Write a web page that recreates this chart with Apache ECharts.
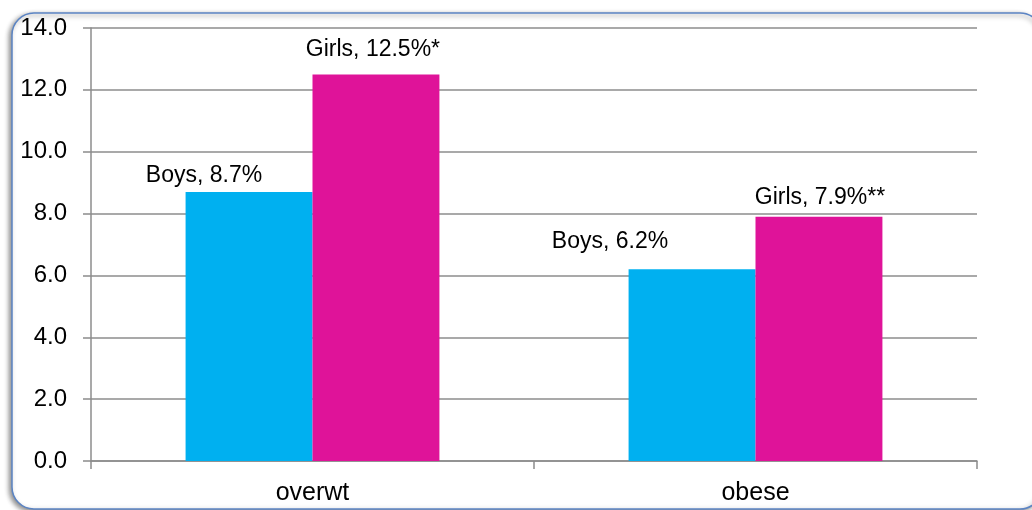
<!DOCTYPE html>
<html>
<head>
<meta charset="utf-8">
<title>Overweight and obesity by sex</title>
<script src="https://cdn.jsdelivr.net/npm/echarts@6/dist/echarts.min.js"></script>
<style>
  html, body { margin: 0; padding: 0; background: #ffffff; }
  #chart { width: 1032px; height: 510px; }
</style>
</head>
<body>
<div id="chart"></div>
<script>
// Prevalence (%) by category and sex
const categories = ['overwt', 'obese'];
const boysValues = [8.7, 6.2];
const girlsValues = [12.5, 7.9];
// Significance markers appended to the girls' labels
const girlsMarks = ['*', '**'];
// Value axis range
const yMin = 0;
const yMax = 14;
const yStep = 2;

// Per-bar label nudges [dx, dy] in pixels
const boysLabelShift = [[-45, 0], [-82, -11]];
const girlsLabelShift = [[-3, -8], [1, -3]];

const FONT = "'Liberation Sans', Arial, sans-serif";
const GRID_GRAY = '#8c8c8c';

function buildSeriesData(values, name, marks, shifts) {
  return values.map((v, i) => ({
    value: v,
    label: {
      formatter: name + ', ' + v.toFixed(1) + '%' + (marks ? marks[i] : ''),
      offset: shifts[i]
    }
  }));
}

const chart = echarts.init(document.getElementById('chart'), null, { renderer: 'canvas' });

const labelStyle = {
  show: true,
  position: 'top',
  distance: 5,
  color: '#000000',
  fontFamily: FONT,
  fontSize: 23
};

chart.setOption({
  animation: false,
  backgroundColor: '#ffffff',
  graphic: [{
    type: 'rect',
    z: -10,
    shape: { x: 12, y: 13, width: 1030, height: 496, r: 22 },
    style: {
      fill: '#ffffff',
      stroke: '#5b84c4',
      lineWidth: 1.5,
      shadowBlur: 5,
      shadowOffsetX: -2,
      shadowOffsetY: 2,
      shadowColor: 'rgba(0,0,0,0.45)'
    }
  }],
  grid: { left: 91, right: 55, top: 28, bottom: 49, containLabel: false },
  xAxis: {
    type: 'category',
    data: categories,
    axisLine: { show: true, lineStyle: { color: GRID_GRAY, width: 1.5 } },
    axisTick: { show: true, length: 8, alignWithLabel: false, lineStyle: { color: GRID_GRAY, width: 1.5 } },
    axisLabel: { color: '#000000', fontFamily: FONT, fontSize: 25, margin: 20 }
  },
  yAxis: {
    type: 'value',
    min: yMin,
    max: yMax,
    interval: yStep,
    axisLine: { show: true, lineStyle: { color: GRID_GRAY, width: 1.5 } },
    axisTick: { show: true, inside: false, length: 8, lineStyle: { color: GRID_GRAY, width: 1.5 } },
    axisLabel: {
      color: '#000000',
      fontFamily: FONT,
      fontSize: 24,
      margin: 24,
      formatter: v => v.toFixed(1)
    },
    splitLine: { show: true, lineStyle: { color: GRID_GRAY, width: 1.5 } }
  },
  series: [
    {
      name: 'Boys',
      type: 'bar',
      barGap: '0%',
      barCategoryGap: '42.7%',
      itemStyle: { color: '#00b0f0' },
      label: labelStyle,
      data: buildSeriesData(boysValues, 'Boys', null, boysLabelShift)
    },
    {
      name: 'Girls',
      type: 'bar',
      barGap: '0%',
      barCategoryGap: '42.7%',
      itemStyle: { color: '#df1399' },
      label: labelStyle,
      data: buildSeriesData(girlsValues, 'Girls', girlsMarks, girlsLabelShift)
    }
  ]
});
</script>
</body>
</html>
